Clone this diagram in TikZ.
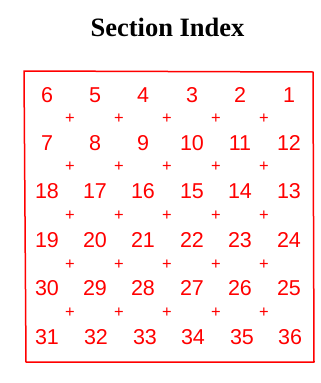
\documentclass[tikz,border=0pt]{standalone}
\usepackage{fontspec}
\setmainfont{Liberation Serif}
\newfontfamily\numfont{Liberation Sans}
\usepackage{xcolor}
\usetikzlibrary{positioning}
\definecolor{sectred}{HTML}{FF0000}
\tikzset{
  secnum/.style={text=sectred, inner sep=0pt, font=\numfont\fontsize{21.5}{25}\selectfont},
  corner/.style={text=sectred, inner sep=0pt, font=\numfont\fontsize{16.5}{18}\selectfont},
  frameline/.style={draw=sectred, line width=1.5pt, line join=round},
  titletext/.style={font=\bfseries\fontsize{26.5}{30}\selectfont, inner sep=0pt}
}
\begin{document}
\begin{tikzpicture}[x=1pt, y=-1pt]
  \useasboundingbox (0,0) rectangle (321,383);
  \node[titletext, anchor=base] (title) at (167.5,36) {Section Index};

  % frame
  \coordinate (tl) at (24,71);
  \coordinate (tr) at (313,72);
  \coordinate (br) at (314,362);
  \coordinate (bl) at (26,362);
  \draw[frameline] (tl) -- (tr) -- (br) -- (bl) -- cycle;

  % row 1
  \node[secnum] (s6) at (47,95) {6};
  \node[secnum] (s5) at (95,95) {5};
  \node[secnum] (s4) at (143,95) {4};
  \node[secnum] (s3) at (192,95) {3};
  \node[secnum] (s2) at (240,95) {2};
  \node[secnum] (s1) at (289,95) {1};
  % row 2
  \node[secnum] (s7) at (47,143) {7};
  \node[secnum] (s8) at (95,143) {8};
  \node[secnum] (s9) at (143,143) {9};
  \node[secnum] (s10) at (192,143) {10};
  \node[secnum] (s11) at (240,143) {11};
  \node[secnum] (s12) at (289,143) {12};
  % row 3
  \node[secnum] (s18) at (47,191) {18};
  \node[secnum] (s17) at (95,191) {17};
  \node[secnum] (s16) at (143,191) {16};
  \node[secnum] (s15) at (192,191) {15};
  \node[secnum] (s14) at (240,191) {14};
  \node[secnum] (s13) at (289,191) {13};
  % row 4
  \node[secnum] (s19) at (47,240) {19};
  \node[secnum] (s20) at (95,240) {20};
  \node[secnum] (s21) at (143,240) {21};
  \node[secnum] (s22) at (192,240) {22};
  \node[secnum] (s23) at (240,240) {23};
  \node[secnum] (s24) at (289,240) {24};
  % row 5
  \node[secnum] (s30) at (47,288) {30};
  \node[secnum] (s29) at (95,288) {29};
  \node[secnum] (s28) at (143,288) {28};
  \node[secnum] (s27) at (192,288) {27};
  \node[secnum] (s26) at (240,288) {26};
  \node[secnum] (s25) at (289,288) {25};
  % row 6
  \node[secnum] (s31) at (47,337) {31};
  \node[secnum] (s32) at (96,337) {32};
  \node[secnum] (s33) at (145,337) {33};
  \node[secnum] (s34) at (193,337) {34};
  \node[secnum] (s35) at (242,337) {35};
  \node[secnum] (s36) at (290,337) {36};

  % section corners
  \node[corner] (c11) at (70,119) {+};  \node[corner] (c12) at (119,119) {+}; \node[corner] (c13) at (167,119) {+}; \node[corner] (c14) at (216,119) {+}; \node[corner] (c15) at (264,119) {+};
  \node[corner] (c21) at (70,167) {+};  \node[corner] (c22) at (119,167) {+}; \node[corner] (c23) at (167,167) {+}; \node[corner] (c24) at (216,167) {+}; \node[corner] (c25) at (264,167) {+};
  \node[corner] (c31) at (70,216) {+};  \node[corner] (c32) at (119,216) {+}; \node[corner] (c33) at (167,216) {+}; \node[corner] (c34) at (216,216) {+}; \node[corner] (c35) at (264,216) {+};
  \node[corner] (c41) at (70,265) {+};  \node[corner] (c42) at (119,265) {+}; \node[corner] (c43) at (167,265) {+}; \node[corner] (c44) at (216,265) {+}; \node[corner] (c45) at (264,265) {+};
  \node[corner] (c51) at (70,313) {+};  \node[corner] (c52) at (119,313) {+}; \node[corner] (c53) at (167,313) {+}; \node[corner] (c54) at (216,313) {+}; \node[corner] (c55) at (264,313) {+};
\end{tikzpicture}
\end{document}
